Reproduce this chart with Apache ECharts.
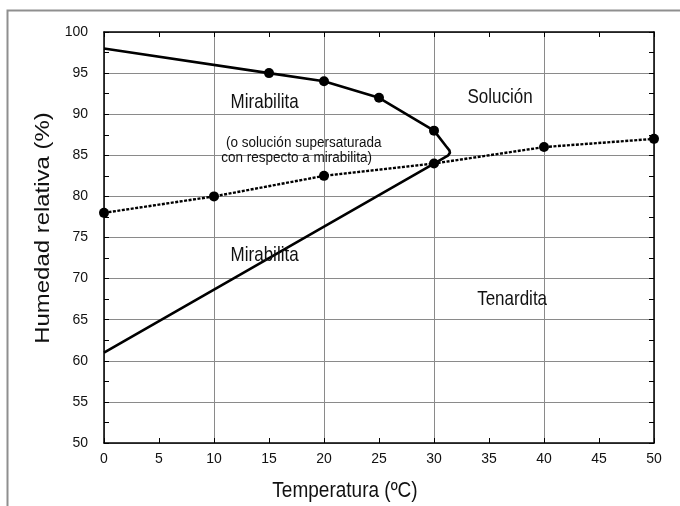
<!DOCTYPE html>
<html>
<head>
<meta charset="utf-8">
<script src="https://cdn.jsdelivr.net/npm/echarts@6/dist/echarts.min.js"></script>
<style>
html,body{margin:0;padding:0;background:#fff;}
#chart{width:680px;height:506px;}
</style>
</head>
<body>
<div id="chart"></div>
<script>
// ---- data ----
const xTicks = [0, 5, 10, 15, 20, 25, 30, 35, 40, 45, 50];
const yTicks = [50, 55, 60, 65, 70, 75, 80, 85, 90, 95, 100];
// boundary curve mirabilita / solución (upper branch, nose, lower branch to 0 ºC)
const boundaryT  = [0, 15, 20, 25, 30, 31.1, 31.4, 31.45, 31.3, 30, 0];
const boundaryRH = [98, 95, 94, 92, 88, 86.1, 85.6, 85.3, 85.0, 84, 61];
// measured points on the mirabilita / solución curve
const mirabPtsT  = [15, 20, 25, 30];
const mirabPtsRH = [95, 94, 92, 88];
// mirabilita / tenardita transition (dotted)
const tenT  = [0, 10, 20, 30, 40, 50];
const tenRH = [78, 80, 82.5, 84, 86, 87];
// region labels (anchored in data units)
const regionLabels = [
  {text: 'Mirabilita', t: 14.6, rh: 91.4},
  {text: 'Solución', t: 36.0, rh: 92.0},
  {text: 'Mirabilita', t: 14.6, rh: 72.8},
  {text: 'Tenardita', t: 37.1, rh: 67.4}
];
const noteLines = ['(o solución supersaturada', 'con respecto a mirabilita)'];
const noteT  = [11.1, 10.65];
const noteRH = [86.5, 84.7];

const FONT = "'Liberation Sans', Arial, Helvetica, sans-serif";
const chart = echarts.init(document.getElementById('chart'), null, {renderer: 'canvas'});

const boundaryData = boundaryT.map((t, i) => [t, boundaryRH[i]]);
const mirabData = mirabPtsT.map((t, i) => [t, mirabPtsRH[i]]);
const tenData = tenT.map((t, i) => [t, tenRH[i]]);

const baseX = {
  type: 'value', min: xTicks[0], max: xTicks[xTicks.length - 1], interval: 5
};
const baseY = {
  type: 'value', min: yTicks[0], max: yTicks[yTicks.length - 1], interval: 5
};

const option = {
  animation: false,
  backgroundColor: '#fff',
  grid: {left: 104, right: 26, top: 32, bottom: 63},
  xAxis: [
    Object.assign({}, baseX, {
      position: 'bottom',
      axisLine: {show: true, onZero: false, lineStyle: {color: '#000', width: 1.5}},
      axisTick: {show: true, inside: true, length: 5, lineStyle: {color: '#000'}},
      axisLabel: {show: true, margin: 9, color: '#111', fontSize: 14, fontFamily: FONT},
      splitLine: {show: false}
    }),
    Object.assign({}, baseX, {
      position: 'top',
      axisLine: {show: true, onZero: false, lineStyle: {color: '#000', width: 1.5}},
      axisTick: {show: true, inside: true, length: 5, lineStyle: {color: '#000'}},
      axisLabel: {show: false},
      splitLine: {show: false}
    }),
    Object.assign({}, baseX, {
      interval: 10,
      position: 'bottom',
      axisLine: {show: false},
      axisTick: {show: false},
      axisLabel: {show: false},
      splitLine: {show: true, lineStyle: {color: '#8a8a8a', width: 1}}
    })
  ],
  yAxis: [
    Object.assign({}, baseY, {
      position: 'left',
      axisLine: {show: true, onZero: false, lineStyle: {color: '#000', width: 1.5}},
      axisTick: {show: true, inside: true, length: 5, lineStyle: {color: '#000'}},
      minorTick: {show: true, splitNumber: 2, length: 5, lineStyle: {color: '#000'}},
      axisLabel: {show: true, margin: 16, color: '#111', fontSize: 14, fontFamily: FONT},
      splitLine: {show: true, lineStyle: {color: '#8a8a8a', width: 1}}
    }),
    Object.assign({}, baseY, {
      position: 'right',
      axisLine: {show: true, onZero: false, lineStyle: {color: '#000', width: 1.5}},
      axisTick: {show: true, inside: true, length: 5, lineStyle: {color: '#000'}},
      minorTick: {show: true, splitNumber: 2, length: 5, lineStyle: {color: '#000'}},
      axisLabel: {show: false},
      splitLine: {show: false}
    })
  ],
  series: [
    {
      name: 'Mirabilita / solución',
      type: 'line', xAxisIndex: 0, yAxisIndex: 0,
      data: boundaryData, showSymbol: false, smooth: false,
      lineStyle: {color: '#000', width: 2.6}, z: 3
    },
    {
      name: 'Puntos mirabilita',
      type: 'scatter', xAxisIndex: 0, yAxisIndex: 0,
      data: mirabData, symbol: 'circle', symbolSize: 10,
      itemStyle: {color: '#000', opacity: 1}, z: 5
    },
    {
      name: 'Mirabilita / tenardita',
      type: 'line', xAxisIndex: 0, yAxisIndex: 0,
      data: tenData, symbol: 'circle', symbolSize: 10, showSymbol: true,
      itemStyle: {color: '#000', borderWidth: 0, opacity: 1},
      lineStyle: {color: '#000', width: 2.4, type: [3, 1.5]}, z: 4
    }
  ],
  graphic: []
};

chart.setOption(option);

function addTexts() {
  const g = [];
  // outer frame of the figure
  g.push({type: 'rect', shape: {x: 7.5, y: 10.5, width: 720, height: 600},
          style: {fill: null, stroke: '#8f8f8f', lineWidth: 2}, silent: true, z: 0});
  regionLabels.forEach(r => {
    const p = chart.convertToPixel({xAxisIndex: 0, yAxisIndex: 0}, [r.t, r.rh]);
    g.push({type: 'text', x: p[0], y: p[1], scaleY: 1.15,
      style: {text: r.text, fill: '#111', font: '17px ' + FONT,
              textAlign: 'center', textVerticalAlign: 'middle'}, z: 10});
  });
  noteLines.forEach((txt, i) => {
    const p = chart.convertToPixel({xAxisIndex: 0, yAxisIndex: 0}, [noteT[i], noteRH[i]]);
    g.push({type: 'text', x: p[0], y: p[1], scaleY: 1.1,
      style: {text: txt, fill: '#111', font: '13.5px ' + FONT,
              textAlign: 'left', textVerticalAlign: 'middle'}, z: 10});
  });
  // axis titles
  g.push({type: 'text', x: 345, y: 491, scaleY: 1.18,
    style: {text: 'Temperatura (ºC)', fill: '#111', font: '19px ' + FONT,
            textAlign: 'center', textVerticalAlign: 'middle'}, z: 10});
  g.push({type: 'text', x: 43, y: 228, rotation: Math.PI / 2, scaleX: 1.14,
    style: {text: 'Humedad relativa (%)', fill: '#111', font: '21px ' + FONT,
            textAlign: 'center', textVerticalAlign: 'middle'}, z: 10});
  chart.setOption({graphic: g});
}
addTexts();
</script>
</body>
</html>
